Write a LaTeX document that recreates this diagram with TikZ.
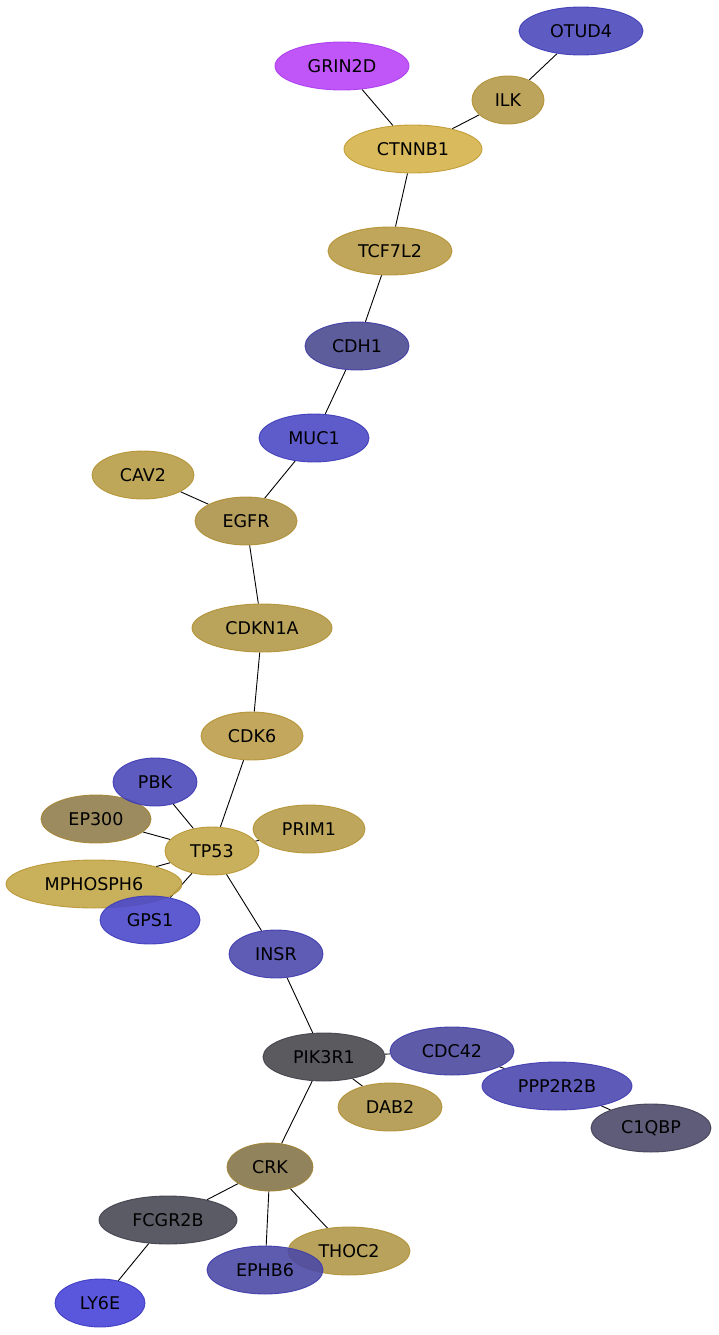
\documentclass[tikz,border=0pt]{standalone}
\usepackage{fontspec}
\setmainfont{DejaVu Sans}
\usetikzlibrary{shapes.geometric,backgrounds}
\definecolor{cOTUD4}{HTML}{4D4ABD}
\definecolor{cGRIN2D}{HTML}{BA44F7}
\definecolor{cILK}{HTML}{B69A4A}
\definecolor{cCTNNB1}{HTML}{D5B24A}
\definecolor{cTCF7L2}{HTML}{B99C48}
\definecolor{cCDH1}{HTML}{4D4B91}
\definecolor{cMUC1}{HTML}{4D4AC5}
\definecolor{cCAV2}{HTML}{B89D48}
\definecolor{cEGFR}{HTML}{AD934A}
\definecolor{cCDKN1A}{HTML}{B39948}
\definecolor{cCDK6}{HTML}{BB9D4A}
\definecolor{cPBK}{HTML}{4B48B9}
\definecolor{cEP300}{HTML}{917E4C}
\definecolor{cPRIM1}{HTML}{B79D4A}
\definecolor{cTP53}{HTML}{C3A74A}
\definecolor{cMPHOSPH6}{HTML}{C3A749}
\definecolor{cGPS1}{HTML}{4B49CA}
\definecolor{cINSR}{HTML}{4C4AAD}
\definecolor{cPIK3R1}{HTML}{49494E}
\definecolor{cCDC42}{HTML}{4C4A9F}
\definecolor{cPPP2R2B}{HTML}{4C48B0}
\definecolor{cDAB2}{HTML}{B0974A}
\definecolor{cC1QBP}{HTML}{4C4A69}
\definecolor{cCRK}{HTML}{85754A}
\definecolor{cFCGR2B}{HTML}{494955}
\definecolor{cTHOC2}{HTML}{B0984A}
\definecolor{cEPHB6}{HTML}{4C4AA5}
\definecolor{cLY6E}{HTML}{4945D8}
\definecolor{bG}{HTML}{B08A22}
\definecolor{bB}{HTML}{3431B0}
\definecolor{bK}{HTML}{3A3A48}
\definecolor{bM}{HTML}{A035E8}
\tikzset{
  gn/.style={ellipse, draw, line width=0.9pt, fill opacity=0.9, draw opacity=0.9, text opacity=1,
    inner sep=0pt, minimum height=48pt, font=\fontsize{17.5}{20}\selectfont, text=black},
  gc/.style 2 args={fill=#1, draw=#1!40!#2},
  edge/.style={draw=black, line width=0.9pt}
}
\newcommand{\gnode}[6]{\node[gn, gc={c#1}{#6}, minimum width=#4pt] (#1) at (#2,#3) {#5};}
\begin{document}
\begin{tikzpicture}[x=1pt,y=-1pt]
\useasboundingbox (0,0) rectangle (718,1335);
\gnode{OTUD4}{581}{31}{124}{OTUD4}{bB}
\gnode{GRIN2D}{342}{66}{134}{GRIN2D}{bM}
\gnode{ILK}{508}{100}{72}{ILK}{bG}
\gnode{CTNNB1}{413}{149}{138}{CTNNB1}{bG}
\gnode{TCF7L2}{390}{251}{124}{TCF7L2}{bG}
\gnode{CDH1}{357}{346}{104}{CDH1}{bB}
\gnode{MUC1}{314}{438}{110}{MUC1}{bB}
\gnode{CAV2}{143}{475}{102}{CAV2}{bG}
\gnode{EGFR}{246}{521}{102}{EGFR}{bG}
\gnode{CDKN1A}{262}{628}{140}{CDKN1A}{bG}
\gnode{CDK6}{252}{736}{102}{CDK6}{bG}
\gnode{EP300}{96}{819}{110}{EP300}{bG}
\gnode{PBK}{155}{782}{84}{PBK}{bB}
\gnode{PRIM1}{309}{829}{112}{PRIM1}{bG}
\gnode{TP53}{212}{851}{94}{TP53}{bG}
\gnode{MPHOSPH6}{94}{884}{176}{MPHOSPH6}{bG}
\gnode{GPS1}{150}{920}{100}{GPS1}{bB}
\gnode{INSR}{276}{954}{94}{INSR}{bB}
\gnode{PIK3R1}{324}{1057}{122}{PIK3R1}{bK}
\gnode{CDC42}{452}{1051}{124}{CDC42}{bB}
\gnode{PPP2R2B}{557}{1086}{150}{PPP2R2B}{bB}
\gnode{DAB2}{390}{1107}{104}{DAB2}{bG}
\gnode{C1QBP}{651}{1128}{120}{C1QBP}{bK}
\gnode{CRK}{270}{1167}{86}{CRK}{bG}
\gnode{FCGR2B}{168}{1220}{138}{FCGR2B}{bK}
\gnode{THOC2}{349}{1251}{122}{THOC2}{bG}
\gnode{EPHB6}{265}{1270}{116}{EPHB6}{bB}
\gnode{LY6E}{100}{1303}{90}{LY6E}{bB}
\begin{pgfonlayer}{background}
\path[edge] (OTUD4)--(ILK) (ILK)--(CTNNB1) (GRIN2D)--(CTNNB1) (CTNNB1)--(TCF7L2)
 (TCF7L2)--(CDH1) (CDH1)--(MUC1) (MUC1)--(EGFR) (CAV2)--(EGFR) (EGFR)--(CDKN1A)
 (CDKN1A)--(CDK6) (CDK6)--(TP53) (PBK)--(TP53) (EP300)--(TP53) (PRIM1)--(TP53)
 (MPHOSPH6)--(TP53) (GPS1)--(TP53) (TP53)--(INSR) (INSR)--(PIK3R1)
 (PIK3R1)--(CDC42) (PIK3R1)--(DAB2) (CDC42)--(PPP2R2B) (PPP2R2B)--(C1QBP)
 (PIK3R1)--(CRK) (CRK)--(FCGR2B) (CRK)--(EPHB6) (CRK)--(THOC2) (FCGR2B)--(LY6E);
\end{pgfonlayer}
\end{tikzpicture}
\end{document}
